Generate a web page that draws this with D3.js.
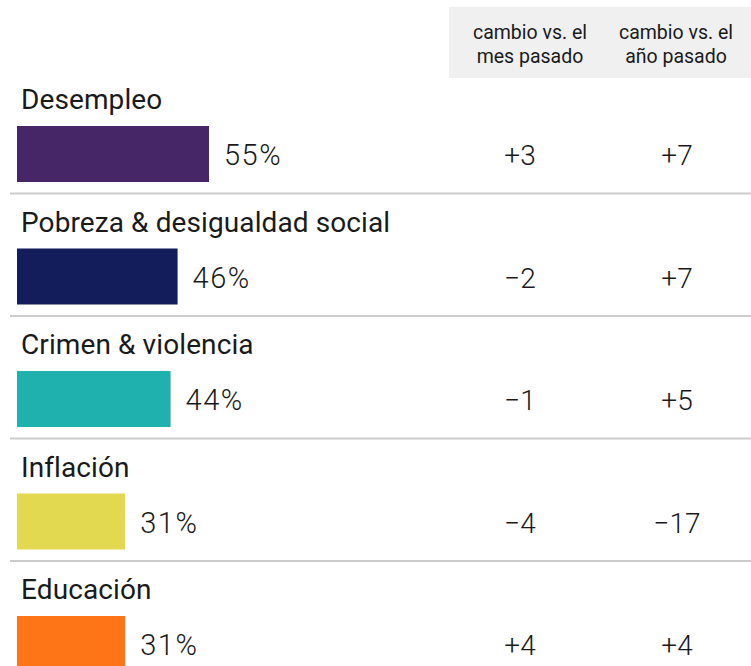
<!DOCTYPE html>
<html lang="es">
<head>
<meta charset="utf-8">
<title>Problemas principales</title>
<script src="https://d3js.org/d3.v7.min.js"></script>
<style>
  body { margin: 0; background: #fff; }
  svg text { font-family: Roboto, "DejaVu Sans", sans-serif; fill: #1a1a1a; }
</style>
</head>
<body>
<div id="chart"></div>
<script>
// data
const categories = ["Desempleo", "Pobreza & desigualdad social", "Crimen & violencia", "Inflación", "Educación"];
const shares = [55, 46, 44, 31, 31];
const changeMonth = ["+3", "−2", "−1", "−4", "+4"];
const changeYear = ["+7", "+7", "+5", "−17", "+4"];
const colors = ["#472668", "#141d5b", "#1fb1ae", "#e2d950", "#fd7516"];
const headers = [["cambio vs. el", "mes pasado"], ["cambio vs. el", "año pasado"]];

const width = 751, height = 666;

const svg = d3.select("#chart").append("svg")
    .attr("width", width)
    .attr("height", height);

// rows
const y = d3.scaleBand()
    .domain(categories)
    .range([71, 71 + 5 * 122.5])
    .padding(0);

// bar length
const x = d3.scaleLinear()
    .domain([0, 55])
    .range([0, 192]);

// the two change columns
const col = d3.scaleOrdinal()
    .domain(["mes", "año"])
    .range([520, 677]);

// header box
svg.append("rect")
    .attr("x", 449).attr("y", 7)
    .attr("width", width - 449).attr("height", 71)
    .attr("fill", "#f0f0f0");

const headerX = [530, 676];
headers.forEach((lines, i) => {
    svg.append("text")
        .attr("x", headerX[i])
        .attr("y", 39)
        .attr("text-anchor", "middle")
        .style("font-size", "19.5px")
        .selectAll("tspan")
        .data(lines)
        .join("tspan")
        .attr("x", headerX[i])
        .attr("dy", (d, j) => j === 0 ? 0 : 24)
        .text(d => d);
});

const rows = svg.selectAll("g.row")
    .data(categories)
    .join("g")
    .attr("class", "row")
    .attr("transform", d => "translate(0," + y(d) + ")");

rows.append("text")
    .attr("x", 21)
    .attr("y", 38)
    .style("font-size", "28px")
    .style("letter-spacing", "0.1px")
    .text(d => d);

rows.append("rect")
    .attr("x", 17)
    .attr("y", 55)
    .attr("height", 56)
    .attr("width", (d, i) => x(shares[i]))
    .attr("fill", (d, i) => colors[i]);

rows.append("text")
    .attr("x", (d, i) => 17 + x(shares[i]) + 15)
    .attr("y", 94)
    .style("font-size", "29px")
    .style("font-weight", 300)
    .style("letter-spacing", "1.5px")
    .text((d, i) => shares[i] + "%");

rows.append("text")
    .attr("x", col("mes"))
    .attr("y", 94)
    .attr("text-anchor", "middle")
    .style("font-size", "28px")
    .style("font-weight", 300)
    .text((d, i) => changeMonth[i]);

rows.append("text")
    .attr("x", col("año"))
    .attr("y", 94)
    .attr("text-anchor", "middle")
    .style("font-size", "28px")
    .style("font-weight", 300)
    .text((d, i) => changeYear[i]);

// separators between rows
rows.filter((d, i) => i < categories.length - 1)
    .append("line")
    .attr("x1", 10).attr("x2", width)
    .attr("y1", y.bandwidth()).attr("y2", y.bandwidth())
    .attr("stroke", "#cccccc")
    .attr("stroke-width", 2);
</script>
</body>
</html>
